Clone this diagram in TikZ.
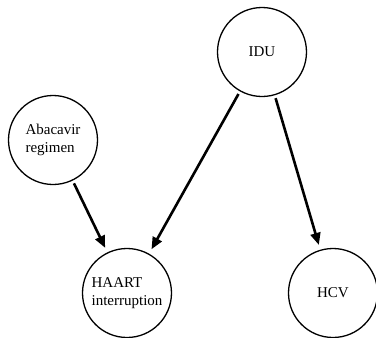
\documentclass[tikz,border=0pt]{standalone}
\usepackage{fontspec}
\setmainfont{Liberation Serif}
\usetikzlibrary{arrows.meta}
\begin{document}
\begin{tikzpicture}[x=1pt,y=-1pt,
  var/.style={draw=black, line width=1.3pt, circle, minimum size=89pt, inner sep=0pt,
    font=\fontsize{15pt}{18pt}\selectfont, align=left},
  edge/.style={line width=2.6pt, -{Triangle[length=12pt,width=10pt]}, shorten <=3pt, shorten >=5pt}]
\useasboundingbox (0,0) rectangle (376,338);
\node[var] (aba) at (53,140) {Abacavir\\regimen};
\node[var] (idu) at (262,52) {IDU};
\node[var] (haart) at (127,293) {HAART\\interruption};
\node[var] (hcv) at (333,293) {HCV};
\draw[edge] (aba) -- (haart);
\draw[edge] (idu) -- (haart);
\draw[edge] (idu) -- (hcv);
\end{tikzpicture}
\end{document}
